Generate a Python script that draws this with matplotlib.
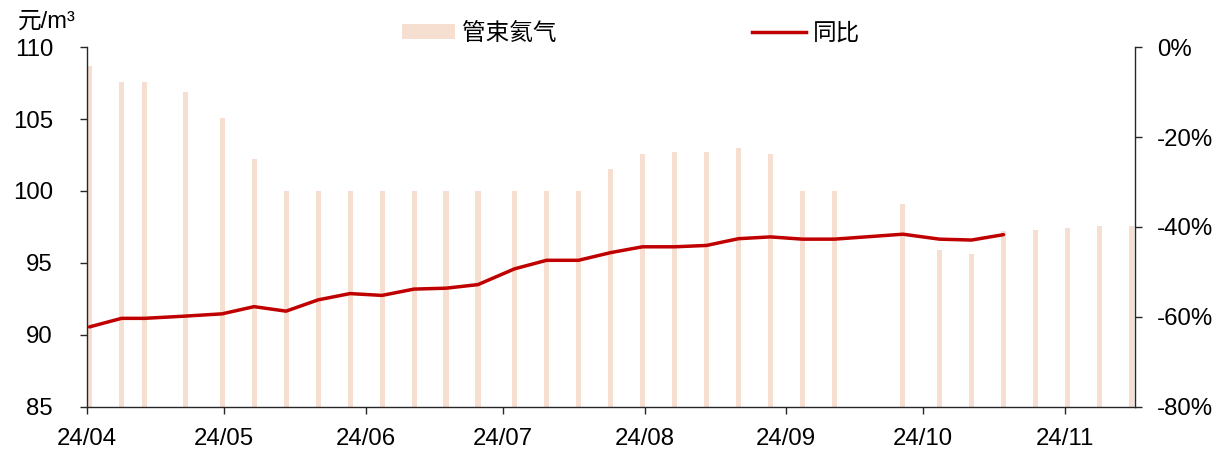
import datetime as dt
import matplotlib
matplotlib.use('Agg')
import matplotlib.pyplot as plt
import matplotlib.dates as mdates
from matplotlib.patches import Patch
from matplotlib.lines import Line2D
from matplotlib.ticker import FuncFormatter, MultipleLocator

plt.rcParams['font.family'] = ['Liberation Sans', 'Noto Sans CJK SC']

# weekly price of tube-trailer helium (元/m³)
price_dates = ['2024-04-01', '2024-04-08', '2024-04-13', '2024-04-22', '2024-04-30',
               '2024-05-07', '2024-05-14', '2024-05-21', '2024-05-28', '2024-06-04',
               '2024-06-11', '2024-06-18', '2024-06-25', '2024-07-03', '2024-07-10',
               '2024-07-17', '2024-07-24', '2024-07-31', '2024-08-07', '2024-08-14',
               '2024-08-21', '2024-08-28', '2024-09-04', '2024-09-11', '2024-09-26',
               '2024-10-04', '2024-10-11', '2024-10-18', '2024-10-25', '2024-11-01',
               '2024-11-08', '2024-11-15']
price = [108.7, 107.6, 107.6, 106.9, 105.1,
         102.2, 100.0, 100.0, 100.0, 100.0,
         100.0, 100.0, 100.0, 100.0, 100.0,
         100.0, 101.5, 102.6, 102.7, 102.7,
         103.0, 102.6, 100.0, 100.0, 99.1,
         95.9, 95.6, 97.2, 97.3, 97.4,
         97.6, 97.6]

# year-on-year change (%), available up to 2024-10-18
yoy = [-62.2, -60.3, -60.3, -59.8, -59.3,
       -57.7, -58.7, -56.2, -54.8, -55.2,
       -53.8, -53.6, -52.8, -49.3, -47.4,
       -47.4, -45.7, -44.4, -44.4, -44.1,
       -42.6, -42.2, -42.7, -42.7, -41.6,
       -42.7, -42.9, -41.7]

month_ticks = ['2024-04-01', '2024-05-01', '2024-06-01', '2024-07-01',
               '2024-08-01', '2024-09-01', '2024-10-01', '2024-11-01']

bar_color = '#F6DED1'
line_color = '#C00000'
spine_color = '#262626'
fs = 17.3

dates = [dt.datetime.strptime(d, '%Y-%m-%d') for d in price_dates]
yoy_dates = [d + dt.timedelta(hours=13) for d in dates[:len(yoy)]]
ticks = [dt.datetime.strptime(d, '%Y-%m-%d') for d in month_ticks]

fig = plt.figure(figsize=(12.21, 4.55), dpi=100)
ax = fig.add_axes([0.0713, 0.1055, 0.8583, 0.7912])
ax2 = ax.twinx()

ax.bar(dates, price, width=1.1, align='edge', color=bar_color, zorder=1)
ax2.plot(yoy_dates, yoy, color=line_color, linewidth=2.5, solid_capstyle='round', zorder=3)

ax.set_xlim(dt.datetime(2024, 4, 1), dt.datetime(2024, 11, 16, 8))
ax.set_ylim(85, 110)
ax.yaxis.set_major_locator(MultipleLocator(5))
ax2.set_ylim(-80, 0)
ax2.yaxis.set_major_locator(MultipleLocator(20))
ax2.yaxis.set_major_formatter(FuncFormatter(lambda v, p: f'{v:.0f}%'))

ax.set_xticks(ticks)
ax.xaxis.set_major_formatter(mdates.DateFormatter('%y/%m'))

for a in (ax, ax2):
    a.spines['top'].set_visible(False)
    for s in ('left', 'right', 'bottom'):
        a.spines[s].set_color(spine_color)
        a.spines[s].set_linewidth(1.0)
ax.spines['right'].set_visible(False)
ax2.spines['left'].set_visible(False)
ax2.spines['bottom'].set_visible(False)

ax.tick_params(axis='y', direction='out', length=5, width=1, color=spine_color,
               labelsize=fs, pad=19.5)
ax.tick_params(axis='x', direction='out', length=5, width=1, color=spine_color,
               labelsize=fs, pad=10)
ax2.tick_params(axis='y', direction='out', length=5, width=1, color=spine_color,
                labelsize=fs, pad=11)

fig.text(0.015, 0.94, '元/m³', fontsize=17, ha='left', va='baseline')

handles = [Patch(facecolor=bar_color, edgecolor='none'),
           Line2D([], [], color=line_color, linewidth=2.5)]
leg = fig.legend(handles, ['管束氦气', '同比'], loc='center left',
                 bbox_to_anchor=(0.329, 0.927), ncol=2, frameon=False,
                 fontsize=17, handlelength=2.25, handleheight=0.6,
                 handletextpad=0.3, columnspacing=8.3, borderaxespad=0,
                 borderpad=0)
for t in leg.get_texts():
    t.set_family(['Noto Sans CJK SC'])

fig.savefig('out.png', dpi=100)
